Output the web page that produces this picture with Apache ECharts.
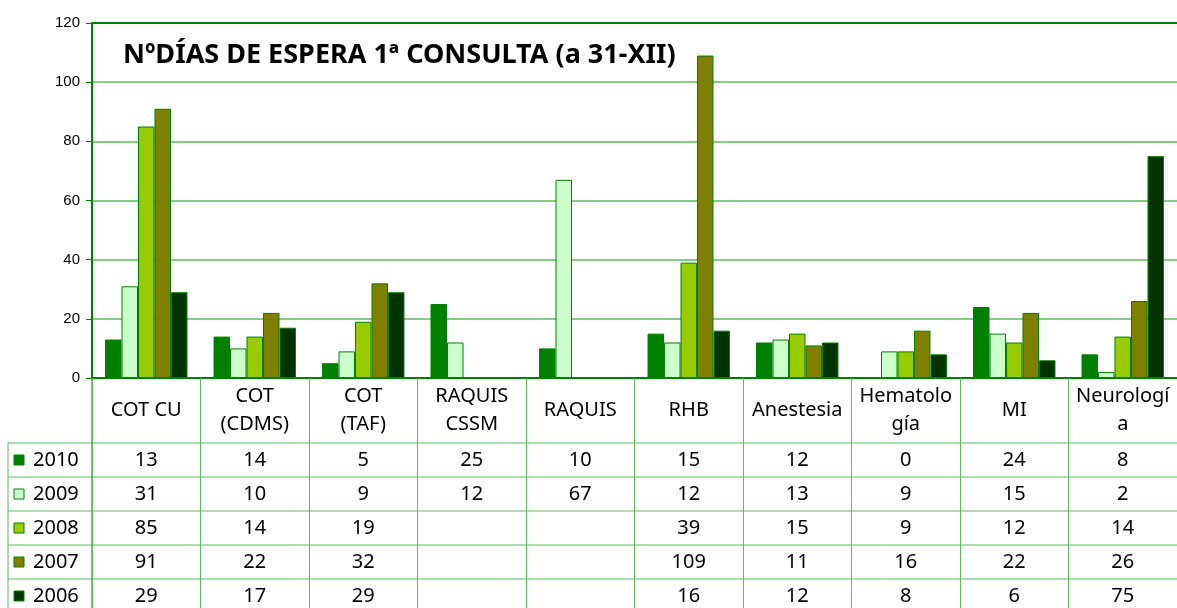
<!DOCTYPE html>
<html>
<head>
<meta charset="utf-8">
<script src="https://cdn.jsdelivr.net/npm/echarts@6/dist/echarts.min.js"></script>
<style>
  html, body { margin: 0; padding: 0; background: #fff; }
  #main { width: 1177px; height: 608px; }
</style>
</head>
<body>
<div id="main"></div>
<script>
var myChart = echarts.init(document.getElementById('main'));

// categorías (con el salto de línea tal como aparece en la tabla)
var categories = ['COT CU', 'COT\n(CDMS)', 'COT\n(TAF)', 'RAQUIS\nCSSM', 'RAQUIS', 'RHB', 'Anestesia', 'Hematolo\ngía', 'MI', 'Neurologí\na'];
var years = ['2010', '2009', '2008', '2007', '2006'];
var colors = ['#008000', '#CCFFCC', '#99CC00', '#808000', '#003300'];

var data_2010 = [13, 14, 5, 25, 10, 15, 12, 0, 24, 8];
var data_2009 = [31, 10, 9, 12, 67, 12, 13, 9, 15, 2];
var data_2008 = [85, 14, 19, null, null, 39, 15, 9, 12, 14];
var data_2007 = [91, 22, 32, null, null, 109, 11, 16, 22, 26];
var data_2006 = [29, 17, 29, null, null, 16, 12, 8, 6, 75];
var allData = [data_2010, data_2009, data_2008, data_2007, data_2006];

var yTicks = [0, 20, 40, 60, 80, 100, 120];

var tableFont = "Tahoma, 'Noto Sans', sans-serif";
var lineGreen = '#5DBB5D';
var darkGreen = '#008000';

var gridLeft = 92, gridTop = 23, gridBottomY = 378, rowH = 34, headerH = 65;
var gridWidth = 1092;

var series = years.map(function (y, i) {
    return {
        name: y,
        type: 'bar',
        data: allData[i],
        barGap: '0%',
        barCategoryGap: '24%',
        itemStyle: { color: colors[i], borderColor: darkGreen, borderWidth: 1 }
    };
});

var option = {
    animation: false,
    grid: {
        left: gridLeft,
        width: gridWidth,
        top: gridTop,
        height: gridBottomY - gridTop,
        show: false
    },
    xAxis: {
        type: 'category',
        data: categories,
        axisLine: { lineStyle: { color: darkGreen, width: 2 } },
        axisTick: {
            show: true,
            interval: 0,
            length: 240,
            lineStyle: { color: lineGreen, width: 1 }
        },
        axisLabel: {
            interval: 0,
            color: '#000',
            fontFamily: tableFont,
            fontSize: 20,
            lineHeight: 28,
            verticalAlign: 'middle',
            margin: 32
        }
    },
    yAxis: {
        type: 'value',
        min: yTicks[0],
        max: yTicks[yTicks.length - 1],
        interval: 20,
        axisLine: { show: true, lineStyle: { color: darkGreen, width: 2 } },
        axisTick: { show: true, length: 6, lineStyle: { color: darkGreen } },
        axisLabel: {
            color: '#000',
            fontFamily: 'Arial, "Liberation Sans", sans-serif',
            fontSize: 15,
            margin: 12
        },
        splitLine: { lineStyle: { color: lineGreen, width: 1.5 } }
    },
    series: series
};

myChart.setOption(option);

// título y tabla de datos debajo del gráfico
var graphics = [];
graphics.push({
    type: 'line',
    shape: { x1: gridLeft, y1: gridTop, x2: 1180, y2: gridTop },
    style: { stroke: darkGreen, lineWidth: 2 }
});
graphics.push({
    type: 'text',
    x: 123,
    y: 55,
    style: {
        text: 'NºDÍAS DE ESPERA 1ª CONSULTA (a 31-XII)',
        font: "bold 27px Tahoma, 'Noto Sans', sans-serif",
        fill: '#000',
        verticalAlign: 'middle'
    }
});

var tableTop = gridBottomY + headerH;
var rightX = 1180;
for (var r = 0; r <= years.length; r++) {
    var ly = tableTop + r * rowH;
    graphics.push({
        type: 'line',
        shape: { x1: 8, y1: ly, x2: rightX, y2: ly },
        style: { stroke: lineGreen, lineWidth: 1 }
    });
}
graphics.push({
    type: 'line',
    shape: { x1: 8, y1: tableTop, x2: 8, y2: 620 },
    style: { stroke: lineGreen, lineWidth: 1 }
});
graphics.push({
    type: 'line',
    shape: { x1: gridLeft, y1: gridBottomY, x2: gridLeft, y2: 620 },
    style: { stroke: darkGreen, lineWidth: 1 }
});

years.forEach(function (y, i) {
    var cy = tableTop + i * rowH + rowH / 2;
    graphics.push({
        type: 'rect',
        shape: { x: 14, y: cy - 5, width: 10, height: 10 },
        style: { fill: colors[i], stroke: darkGreen, lineWidth: 1 }
    });
    graphics.push({
        type: 'text',
        x: 33,
        y: cy,
        style: { text: y, font: '20px ' + tableFont, fill: '#000', verticalAlign: 'middle' }
    });
    categories.forEach(function (c, j) {
        var v = allData[i][j];
        if (v === null) return;
        var cx = myChart.convertToPixel({ xAxisIndex: 0 }, c);
        graphics.push({
            type: 'text',
            x: cx,
            y: cy,
            style: { text: String(v), font: '20px ' + tableFont, fill: '#000', align: 'center', verticalAlign: 'middle' }
        });
    });
});

myChart.setOption({ graphic: graphics });
</script>
</body>
</html>
